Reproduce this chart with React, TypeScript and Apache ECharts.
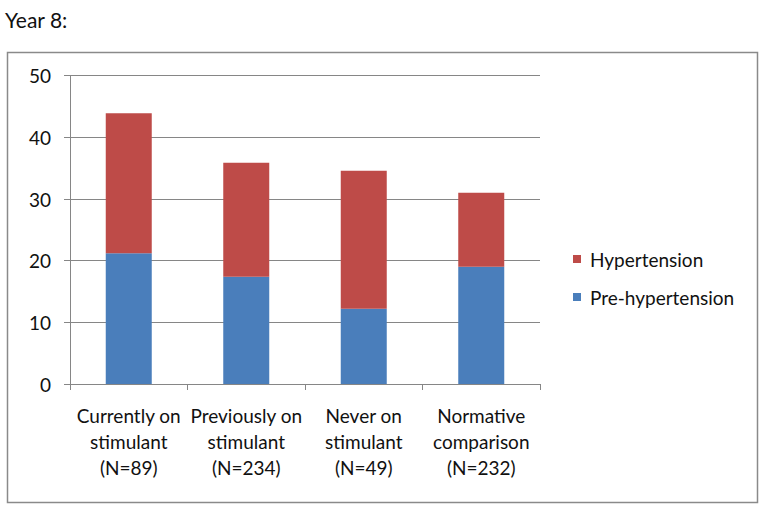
import React, { useEffect, useRef } from "react";
import * as echarts from "echarts";

const categories = [
  "Currently on\nstimulant\n(N=89)",
  "Previously on\nstimulant\n(N=234)",
  "Never on\nstimulant\n(N=49)",
  "Normative\ncomparison\n(N=232)",
];
const preHypertension = [21.2, 17.4, 12.2, 19.0];
const hypertension = [22.7, 18.5, 22.4, 12.0];
const yTicks = { min: 0, max: 50, interval: 10 };

const FONT = "Lato, 'Open Sans', sans-serif";

export default function App() {
  const ref = useRef<HTMLDivElement>(null);
  useEffect(() => {
    document.body.style.margin = "0";
    const chart = echarts.init(ref.current!, null, { renderer: "svg" });
    chart.setOption({
      animation: false,
      backgroundColor: "#ffffff",
      textStyle: { fontFamily: FONT },
      graphic: [
        {
          type: "text",
          left: 5,
          top: 9,
          style: { text: "Year 8:", fontSize: 21, fill: "#111", fontFamily: FONT },
        },
        {
          type: "rect",
          shape: { x: 7.5, y: 52.5, width: 750, height: 450 },
          style: { fill: "none", stroke: "#8a8a8a", lineWidth: 1.5 },
          silent: true,
        },
      ],
      grid: { left: 70, right: 225, top: 75.7, bottom: 125, containLabel: false },
      legend: {
        orient: "vertical",
        left: 573,
        top: 249,
        padding: 0,
        itemWidth: 8,
        itemHeight: 8,
        itemGap: 18,
        icon: "rect",
        data: ["Hypertension", "Pre-hypertension"],
        textStyle: {
          fontSize: 19,
          lineHeight: 20,
          color: "#111",
          fontFamily: FONT,
          padding: [0, 0, 0, 4],
        },
      },
      xAxis: {
        type: "category",
        data: categories,
        axisLine: { show: true, lineStyle: { color: "#868686", width: 1 } },
        axisTick: { show: true, length: 6, lineStyle: { color: "#868686" } },
        axisLabel: {
          fontSize: 19,
          lineHeight: 26,
          color: "#111",
          margin: 18,
          fontFamily: FONT,
          interval: 0,
        },
      },
      yAxis: {
        type: "value",
        min: yTicks.min,
        max: yTicks.max,
        interval: yTicks.interval,
        axisLine: { show: true, lineStyle: { color: "#868686", width: 1 } },
        axisTick: { show: true, length: 6, lineStyle: { color: "#868686" } },
        splitLine: { show: true, lineStyle: { color: "#868686", width: 1 } },
        axisLabel: { fontSize: 19, color: "#111", margin: 19, fontFamily: FONT },
      },
      series: [
        {
          name: "Pre-hypertension",
          type: "bar",
          stack: "total",
          barWidth: 46,
          data: preHypertension,
          itemStyle: { color: "#4A7EBB" },
        },
        {
          name: "Hypertension",
          type: "bar",
          stack: "total",
          barWidth: 46,
          data: hypertension,
          itemStyle: { color: "#BE4B48" },
        },
      ],
    });
    return () => chart.dispose();
  }, []);
  return (
    <div
      ref={ref}
      style={{ position: "absolute", left: 0, top: 0, width: 765, height: 509 }}
    />
  );
}
